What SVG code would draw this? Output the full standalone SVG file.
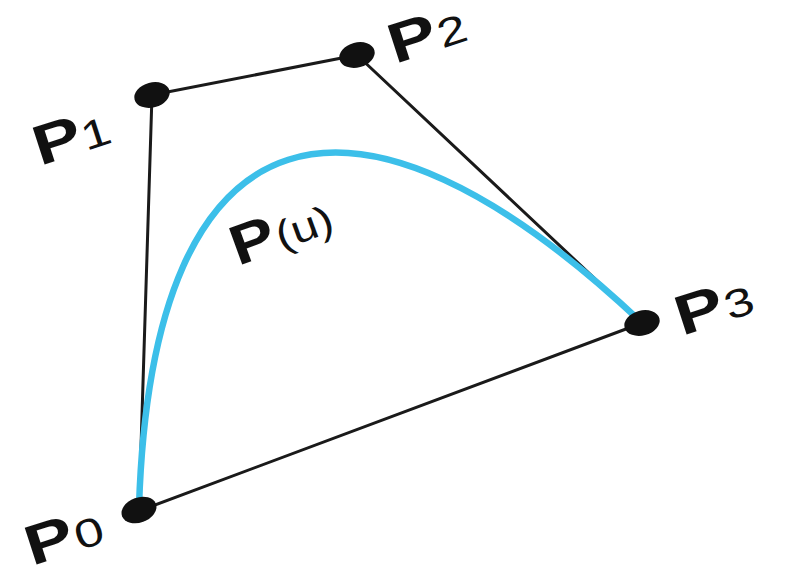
<svg xmlns="http://www.w3.org/2000/svg" width="788" height="576" viewBox="0 0 788 576">
<style>
.edge{stroke:#1a1a1a;stroke-width:3;fill:none;stroke-linecap:round}
.curve{stroke:#3cbfe9;stroke-width:6.5;fill:none;stroke-linecap:round}
.dot{fill:#111}
.lbl{font-family:"Liberation Sans",Arial,sans-serif;fill:#111}
.b{font-weight:bold;font-size:56px}
.d{font-weight:normal;font-size:40px}
</style>
<rect width="788" height="576" fill="#ffffff"/>
<g id="connectors">
<line class="edge" x1="139" y1="511" x2="152" y2="95"/>
<line class="edge" x1="152" y1="95" x2="357" y2="55"/>
<line class="edge" x1="357" y1="55" x2="642" y2="323"/>
<line class="edge" x1="642" y1="323" x2="139" y2="511"/>
<path class="curve" d="M139,507 C152,95 357,55 640,321"/>
</g>
<g id="P0"><ellipse class="dot" cx="139" cy="510" rx="18" ry="12.5" transform="rotate(-20 139 510)"/>
<text class="lbl" transform="translate(32,566) rotate(-18) scale(1.3,1)"><tspan class="b">P</tspan><tspan class="d" dx="1">0</tspan></text></g>
<g id="P1"><ellipse class="dot" cx="152" cy="95" rx="18" ry="12.5" transform="rotate(-15 152 95)"/>
<text class="lbl" transform="translate(40,166) rotate(-18) scale(1.3,1)"><tspan class="b">P</tspan><tspan class="d" dx="0">1</tspan></text></g>
<g id="P2"><ellipse class="dot" cx="357" cy="55" rx="18" ry="12.5" transform="rotate(-15 357 55)"/>
<text class="lbl" transform="translate(395,64) rotate(-18) scale(1.3,1)"><tspan class="b">P</tspan><tspan class="d" dx="1">2</tspan></text></g>
<g id="P3"><ellipse class="dot" cx="642" cy="323" rx="18" ry="12.5" transform="rotate(-15 642 323)"/>
<text class="lbl" transform="translate(682,336) rotate(-18) scale(1.3,1)"><tspan class="b">P</tspan><tspan class="d" dx="1">3</tspan></text></g>
<g id="Pu">
<text class="lbl" transform="translate(238,266) rotate(-20) scale(1.2,1)"><tspan class="b" font-size="58">P</tspan><tspan class="d" font-size="52" dx="1">(u)</tspan></text></g>
</svg>
